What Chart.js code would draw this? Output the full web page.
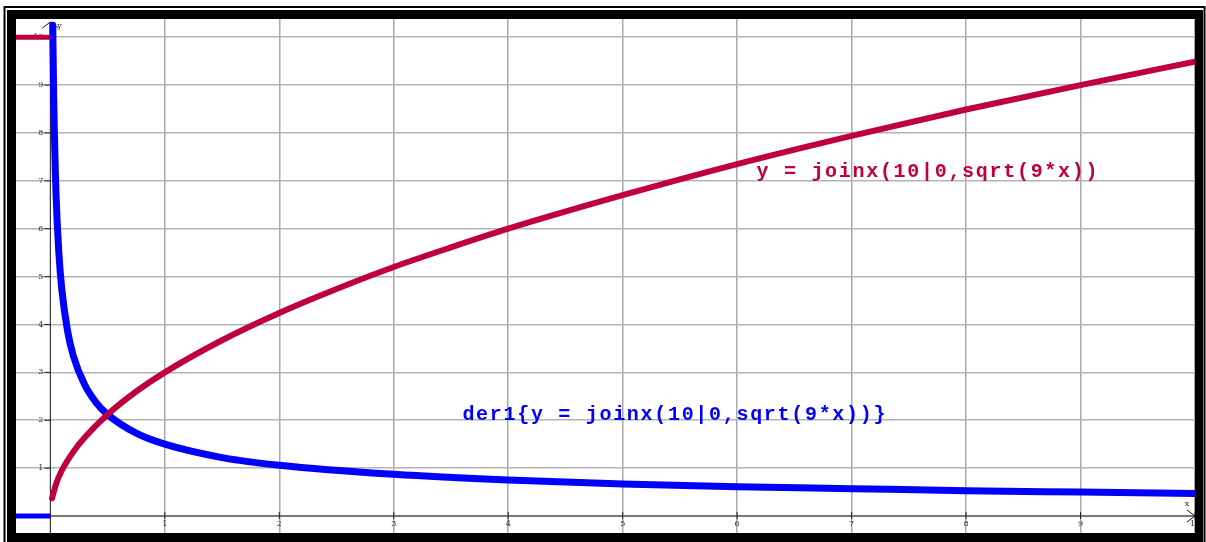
<!DOCTYPE html>
<html>
<head>
<meta charset="utf-8">
<script src="https://cdn.jsdelivr.net/npm/chart.js@4.4.0/dist/chart.umd.min.js"></script>
<style>
  html, body { margin: 0; padding: 0; background: #fff; }
  #wrap { width: 1206px; height: 542px; }
</style>
</head>
<body>
<div id="wrap"><canvas id="chart" width="1206" height="542"></canvas></div>
<script>
// Axis ticks
const xTicks = [0, 1, 2, 3, 4, 5, 6, 7, 8, 9, 10];
const yTicks = [0, 1, 2, 3, 4, 5, 6, 7, 8, 9, 10];

// red curve: y = joinx(10|0, sqrt(9*x))
const redLeftX = [-0.3, 0];
const redLeftY = [10, 10];
const redX = [0.015, 0.05, 0.1, 0.2, 0.3, 0.5, 0.75, 1, 1.5, 2, 2.5, 3, 3.5, 4, 5, 6, 7, 8, 9, 10];
const redY = [0.37, 0.67, 0.95, 1.34, 1.64, 2.12, 2.6, 3.0, 3.67, 4.24, 4.74, 5.2, 5.61, 6.0, 6.7, 7.35, 7.94, 8.49, 9.0, 9.49];

// blue curve: der1{...}
const blueLeftX = [-0.3, 0];
const blueLeftY = [0, 0];
const blueX = [0.021, 0.03, 0.05, 0.075, 0.1, 0.15, 0.2, 0.3, 0.4, 0.5, 0.75, 1, 1.5, 2, 3, 4, 5, 6, 7, 8, 9, 10];
const blueY = [10.25, 8.66, 6.7, 5.48, 4.74, 3.87, 3.35, 2.74, 2.37, 2.12, 1.73, 1.5, 1.22, 1.06, 0.87, 0.75, 0.67, 0.61, 0.57, 0.53, 0.5, 0.47];

const RED = "#c0003c";
const BLUE = "#0000ff";

function pts(xs, ys) {
  return xs.map((x, i) => ({ x: x, y: ys[i] }));
}

// labels, tick text, arrows, frame
const decorPlugin = {
  id: "decor",
  beforeDatasetsDraw(chart) {
    const ctx = chart.ctx;
    const xs = chart.scales.x, ys = chart.scales.y;
    const x0 = xs.getPixelForValue(0), y0 = ys.getPixelForValue(0);
    ctx.save();
    // axes
    ctx.strokeStyle = "#777";
    ctx.lineWidth = 2;
    ctx.beginPath();
    ctx.moveTo(chart.chartArea.left, y0);
    ctx.lineTo(chart.chartArea.right, y0);
    ctx.stroke();
    ctx.strokeStyle = "#111";
    ctx.lineWidth = 1;
    ctx.beginPath();
    ctx.moveTo(x0, chart.chartArea.bottom);
    ctx.lineTo(x0, chart.chartArea.top + 3);
    ctx.stroke();

    // tick marks + labels
    ctx.fillStyle = "#333";
    ctx.font = "8px 'DejaVu Serif'";
    ctx.strokeStyle = "#222";
    ctx.lineWidth = 1;
    ctx.textAlign = "center";
    ctx.textBaseline = "top";
    xTicks.forEach(v => {
      if (v === 0) return;
      const px = xs.getPixelForValue(v);
      ctx.beginPath();
      ctx.moveTo(px, y0 - 4);
      ctx.lineTo(px, y0 + 3);
      ctx.stroke();
      ctx.fillText(String(v), px, y0 + 4);
    });
    ctx.textAlign = "right";
    ctx.textBaseline = "middle";
    yTicks.forEach(v => {
      if (v === 0) return;
      const py = ys.getPixelForValue(v);
      ctx.beginPath();
      ctx.moveTo(x0 - 6, py);
      ctx.lineTo(x0, py);
      ctx.stroke();
      ctx.fillText(String(v), x0 - 7, py);
    });

    // arrows
    const top = chart.chartArea.top + 3;
    ctx.strokeStyle = "#111";
    ctx.beginPath();
    ctx.moveTo(x0 - 8, top + 6);
    ctx.lineTo(x0, top);
    ctx.lineTo(x0 + 8, top + 6);
    ctx.stroke();
    ctx.fillStyle = "#333";
    ctx.textAlign = "left";
    ctx.fillText("y", x0 + 7, top + 4);
    const right = chart.chartArea.right;
    ctx.beginPath();
    ctx.moveTo(right - 8, y0 - 6);
    ctx.lineTo(right, y0);
    ctx.lineTo(right - 8, y0 + 6);
    ctx.stroke();
    ctx.textAlign = "center";
    ctx.fillText("x", right - 8, y0 - 12);
    ctx.restore();
  },
  afterDatasetsDraw(chart) {
    const ctx = chart.ctx;
    const xs = chart.scales.x, ys = chart.scales.y;
    ctx.save();
    ctx.font = "bold 20px 'Liberation Mono'";
    if ("letterSpacing" in ctx) ctx.letterSpacing = "1.7px";
    ctx.textAlign = "left";
    ctx.textBaseline = "alphabetic";
    ctx.fillStyle = RED;
    ctx.fillText("y = joinx(10|0,sqrt(9*x))", xs.getPixelForValue(6.17), ys.getPixelForValue(7.08));
    ctx.fillStyle = BLUE;
    ctx.fillText("der1{y = joinx(10|0,sqrt(9*x))}", xs.getPixelForValue(3.6), ys.getPixelForValue(2.0));
    ctx.restore();
  },
  afterDraw(chart) {
    const ctx = chart.ctx;
    const a = chart.chartArea;
    ctx.save();
    ctx.fillStyle = "#000";
    // thick frame
    ctx.fillRect(7, 10, a.left - 7, 533 - 10 + 9);
    ctx.fillRect(7, 10, 1203 - 7, a.top - 10);
    ctx.fillRect(a.right, 10, 1203 - a.right, 532);
    ctx.fillRect(7, a.bottom, 1203 - 7, 542 - a.bottom);
    // thin outer line
    ctx.strokeStyle = "#000";
    ctx.lineWidth = 2;
    ctx.beginPath();
    ctx.moveTo(4.5, 545);
    ctx.lineTo(4.5, 7);
    ctx.lineTo(1204.5, 7);
    ctx.lineTo(1204.5, 545);
    ctx.stroke();
    ctx.restore();
  }
};

const lineStyle = {
  showLine: true,
  pointRadius: 0,
  borderWidth: 6,
  cubicInterpolationMode: "monotone",
  borderCapStyle: "round",
  borderJoinStyle: "round"
};

new Chart(document.getElementById("chart"), {
  type: "scatter",
  data: {
    datasets: [
      Object.assign({ data: pts(redLeftX, redLeftY), borderColor: RED, backgroundColor: RED }, lineStyle, { borderWidth: 5, borderCapStyle: "butt" }),
      Object.assign({ data: pts(redX, redY), borderColor: RED, backgroundColor: RED }, lineStyle),
      Object.assign({ data: pts(blueLeftX, blueLeftY), borderColor: BLUE, backgroundColor: BLUE }, lineStyle, { borderWidth: 5, borderCapStyle: "butt" }),
      Object.assign({ data: pts(blueX, blueY), borderColor: BLUE, backgroundColor: BLUE }, lineStyle, { borderWidth: 7 })
    ]
  },
  options: {
    responsive: false,
    animation: false,
    layout: { padding: { left: 16, right: 11, top: 19, bottom: 9 } },
    plugins: {
      legend: { display: false },
      tooltip: { enabled: false }
    },
    scales: {
      x: {
        type: "linear",
        min: -0.3,
        max: 10,
        afterBuildTicks: s => { s.ticks = xTicks.map(v => ({ value: v })); },
        ticks: { display: false },
        border: { display: false },
        grid: {
          drawTicks: false,
          lineWidth: 1.5,
          color: c => (c.tick && c.tick.value === 0) ? "rgba(0,0,0,0)" : "#a8a8a8"
        }
      },
      y: {
        type: "linear",
        min: -0.355,
        max: 10.38,
        afterBuildTicks: s => { s.ticks = yTicks.map(v => ({ value: v })); },
        ticks: { display: false },
        border: { display: false },
        grid: {
          drawTicks: false,
          lineWidth: 1.5,
          color: c => (c.tick && c.tick.value === 0) ? "rgba(0,0,0,0)" : "#b4b4b4"
        }
      }
    }
  },
  plugins: [decorPlugin]
});
</script>
</body>
</html>
